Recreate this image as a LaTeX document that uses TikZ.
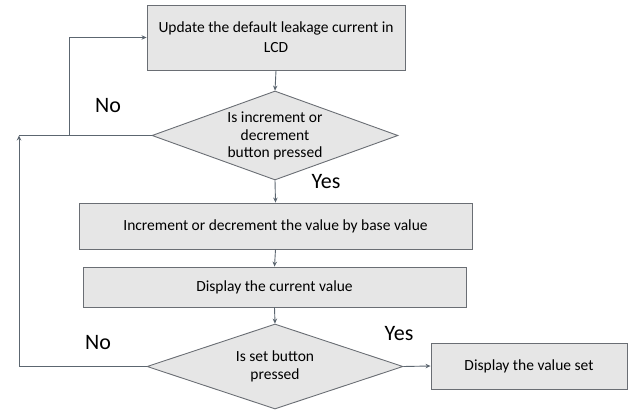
\documentclass[tikz,border=0pt]{standalone}
\usepackage{fontspec}
\setmainfont{Carlito}
\usetikzlibrary{shapes.geometric,arrows.meta}
\definecolor{boxfill}{HTML}{E6E6E6}
\definecolor{boxline}{HTML}{6A6E74}
\definecolor{conn}{HTML}{5C6670}
\tikzset{
  stepbox/.style={draw=boxline, fill=boxfill, line width=0.9pt, inner sep=0pt, align=center, font=\fontsize{15.5}{20}\selectfont},
  decbox/.style={draw=boxline, fill=boxfill, line width=0.9pt, diamond, inner sep=0pt},
  dtext/.style={align=center, font=\fontsize{15.5}{17.5}\selectfont},
  lbl/.style={font=\fontsize{22}{24}\selectfont},
  arr/.style={draw=conn, line width=0.9pt, -{Stealth[length=5pt,width=4.5pt]}},
  ln/.style={draw=conn, line width=0.9pt},
}
\begin{document}
\begin{tikzpicture}[x=1pt,y=-1pt]
\useasboundingbox (0,0) rectangle (629,411);
\node[stepbox, minimum width=258pt, minimum height=65pt] (b1) at (276,37.5) {Update the default leakage current in\\LCD};
\node[decbox, minimum width=246pt, minimum height=89pt] (d1) at (275,135.5) {};
\node[dtext] (d1t) at (275,136) {Is increment or\\decrement\\button pressed};
\node[stepbox, minimum width=393pt, minimum height=46pt] (b2) at (275.5,226) {Increment or decrement the value by base value};
\node[stepbox, minimum width=383pt, minimum height=40pt] (b3) at (274.5,287) {Display the current value};
\node[decbox, minimum width=256pt, minimum height=85pt] (d2) at (275,366.5) {};
\node[dtext] (d2t) at (275,366.5) {Is set button\\pressed};
\node[stepbox, minimum width=196pt, minimum height=46pt] (b4) at (529,366) {Display the value set};

\node[lbl] (no1) at (108,106) {No};
\node[lbl] (yes1) at (326,182) {Yes};
\node[lbl] (no2) at (98,343) {No};
\node[lbl] (yes2) at (399,334) {Yes};

\coordinate (ltop) at (19,135.5);
\coordinate (lj) at (69,135.5);

\draw[arr] (b1.south) -- (d1.north);
\draw[arr] (d1.south) -- (b2.north);
\draw[arr] (b2.south) -- (b3.north);
\draw[arr] (b3.south) -- (d2.north);
\draw[arr] (d2.east) -- (b4.west);
\draw[ln] (d1.west) -- (ltop);
\draw[arr] (lj) |- (b1.west);
\draw[arr] (d2.west) -| (ltop);
\end{tikzpicture}
\end{document}
